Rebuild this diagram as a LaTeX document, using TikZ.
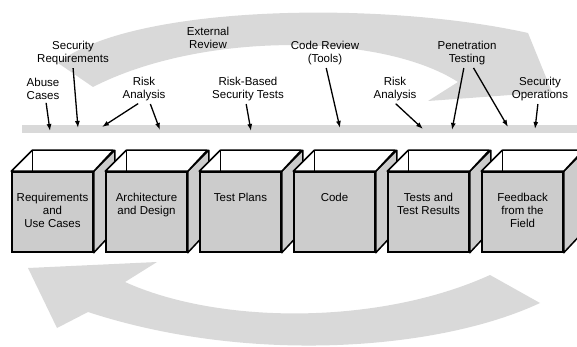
\documentclass[tikz,border=0pt]{standalone}
\usepackage{fontspec}
\setmainfont{Liberation Sans}
\usepackage{tikz}
\usetikzlibrary{positioning,arrows.meta}
\usepackage{xcolor}
\definecolor{lightband}{gray}{0.85}
\definecolor{facegray}{gray}{0.80}

\begin{document}
\begin{tikzpicture}[x=1pt,y=-1pt,>={Latex[length=7pt,width=5pt]},
  face/.style={draw,line width=1.5pt,fill=facegray,minimum width=81pt,minimum height=80pt,inner sep=0pt},
  side/.style={draw,line width=1.5pt,fill=facegray,line join=round},
  rim/.style={draw,line width=1.5pt,fill=white,line join=round},
  lbl/.style={font=\fontsize{11.5}{13}\selectfont,align=center,inner sep=2pt},
  boxtxt/.style={font=\fontsize{11.5}{13}\selectfont,align=center,inner sep=0pt,anchor=north},
  pt/.style={->,line width=1.3pt,shorten <=1pt}]
\useasboundingbox (0,0) rectangle (577,347);
\clip (0,0) rectangle (577,347);

% big grey arrows
\fill[lightband] (58,63) .. controls (130,5) and (380,0) .. (528,33) -- (552,92) -- (428,101) -- (458,82)
  .. controls (380,32) and (200,32) .. (93,87) -- cycle;
\fill[lightband] (28,268) -- (157,262) -- (125,282) .. controls (220,325) and (380,325) .. (490,275)
  -- (540,303) .. controls (440,350) and (250,365) .. (88,312) -- (57,328) -- cycle;

% band the activities hang on
\node[fill=lightband,minimum width=555pt,minimum height=8pt,inner sep=0pt,anchor=north west] (band) at (22,125) {};

% the six boxes
\foreach \cx/\nm/\txt in {52.5/req/{Requirements\\and\\Use Cases}, 146.5/arch/{Architecture\\and Design},
    240.5/plans/{Test Plans}, 334.5/code/{Code}, 428.5/tests/{Tests and\\Test Results},
    522.5/field/{Feedback\\from the\\Field}}{
  \node[face] (\nm) at (\cx,212) {};
  \filldraw[side] (\nm.north east) -- ++(21,-21) -- ++(0,80) -- (\nm.south east) -- cycle;
  \filldraw[rim] (\nm.north west) -- ++(21,-21) -- ++(81,0) -- (\nm.north east) -- cycle;
  \draw[line width=1.5pt] ([shift={(21,-21)}]\nm.north west) -- ++(0,21);
  \node[boxtxt] (\nm-t) at ([yshift=-22pt]\nm.north) {\txt};
}

% labels
\node[lbl] (extrev) at (208,38) {External\\Review};
\node[lbl] (secreq) at (73,53) {Security\\Requirements};
\node[lbl] (codrev) at (325,53) {Code Review\\(Tools)};
\node[lbl] (pentest) at (467,53) {Penetration\\Testing};
\node[lbl] (abuse) at (43,89) {Abuse\\Cases};
\node[lbl] (risk1) at (144,89) {Risk\\Analysis};
\node[lbl] (rbst) at (248,89) {Risk-Based\\Security Tests};
\node[lbl] (risk2) at (395,89) {Risk\\Analysis};
\node[lbl] (secops) at (540,89) {Security\\Operations};

% where the arrows land on the band
\coordinate (abuse-e) at (50,131);
\coordinate (secreq-e) at (78,128);
\coordinate (risk1-a) at (102,127);
\coordinate (risk1-b) at (160,130);
\coordinate (rbst-e) at (251,131);
\coordinate (codrev-e) at (340,128);
\coordinate (risk2-e) at (423,129);
\coordinate (pentest-a) at (452,130);
\coordinate (pentest-b) at (508,127);
\coordinate (secops-e) at (535,129);

\draw[pt] ([xshift=3pt]abuse.south) -- (abuse-e);
\draw[pt] (secreq.south) -- (secreq-e);
\draw[pt] ([xshift=-5pt]risk1.south) -- (risk1-a);
\draw[pt] ([xshift=6pt]risk1.south) -- (risk1-b);
\draw[pt] ([xshift=-2pt]rbst.south) -- (rbst-e);
\draw[pt] ([xshift=1pt]codrev.south) -- (codrev-e);
\draw[pt] (risk2.south) -- (risk2-e);
\draw[pt] ([xshift=-3pt]pentest.south) -- (pentest-a);
\draw[pt] ([xshift=6pt]pentest.south) -- (pentest-b);
\draw[pt] ([xshift=-2pt]secops.south) -- (secops-e);
\end{tikzpicture}
\end{document}
